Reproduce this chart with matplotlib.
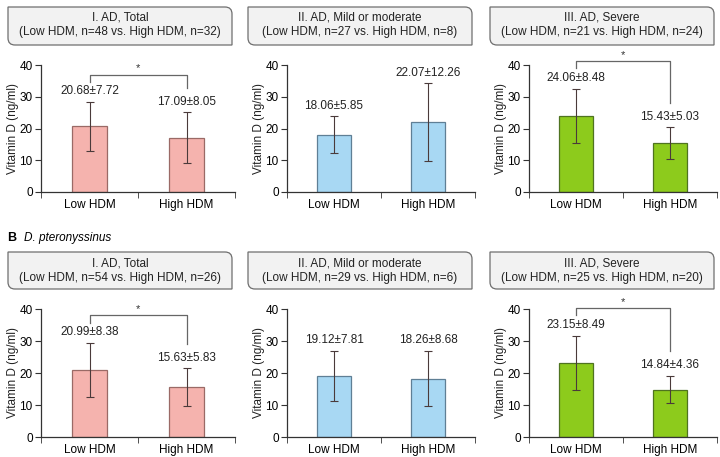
import matplotlib
matplotlib.use("Agg")
import matplotlib.pyplot as plt
from matplotlib.path import Path
from matplotlib.patches import PathPatch

plt.rcParams['font.family'] = ['Liberation Sans', 'DejaVu Sans']
plt.rcParams['font.size'] = 8.5

# data
groups = ["Low HDM", "High HDM"]
titles = ["I. AD, Total", "II. AD, Mild or moderate", "III. AD, Severe"]
n_top = [(48, 32), (27, 8), (21, 24)]
n_bottom = [(54, 26), (29, 6), (25, 20)]
mean_top = [[20.68, 17.09], [18.06, 22.07], [24.06, 15.43]]
sd_top = [[7.72, 8.05], [5.85, 12.26], [8.48, 5.03]]
mean_bottom = [[20.99, 15.63], [19.12, 18.26], [23.15, 14.84]]
sd_bottom = [[8.38, 5.83], [7.81, 8.68], [8.49, 4.36]]
sig_top = [True, False, True]
sig_bottom = [True, False, True]

face_colors = ["#F5B3AE", "#A8D8F3", "#8DCB1C"]
edge_colors = ["#9A6A66", "#5F7F95", "#4F7320"]

W, H = 720, 457
fig = plt.figure(figsize=(W / 100, H / 100), dpi=100)

# overlay in pixel coordinates for boxes and panel label
ov = fig.add_axes([0, 0, 1, 1])
ov.set_xlim(0, W)
ov.set_ylim(H, 0)
ov.axis("off")


def title_box(x0, x1, y0, y1, line1, line2, r=7):
    verts = [(x0, y0), (x1 - r, y0), (x1, y0), (x1, y0 + r), (x1, y1),
             (x0 + r, y1), (x0, y1), (x0, y1 - r), (x0, y0)]
    codes = [Path.MOVETO, Path.LINETO, Path.CURVE3, Path.CURVE3, Path.LINETO,
             Path.LINETO, Path.CURVE3, Path.CURVE3, Path.CLOSEPOLY]
    ov.add_patch(PathPatch(Path(verts, codes), facecolor="#F2F2F2",
                           edgecolor="#6E6E6E", lw=0.9))
    xc = (x0 + x1) / 2
    ov.text(xc, y0 + 11, line1, ha="center", va="center", color="#222222")
    ov.text(xc, y0 + 25.5, line2, ha="center", va="center", color="#222222")


def px_axes(left, top, width, height):
    return fig.add_axes([left / W, 1 - (top + height) / H, width / W, height / H])


def panel(ax, means, sds, col, sig):
    x = [0, 1]
    ax.bar(x, means, width=0.37, color=face_colors[col],
           edgecolor=edge_colors[col], linewidth=0.9, zorder=2)
    ax.errorbar(x, means, yerr=sds, fmt="none", ecolor="#4A3A3A",
                elinewidth=0.8, capsize=3, capthick=0.8, zorder=3)
    tops = [m + s for m, s in zip(means, sds)]
    for xi, m, s, t in zip(x, means, sds, tops):
        ax.text(xi, t + 3.3, f"{m:.2f}\u00b1{s:.2f}", ha="center",
                va="center", color="#222222")
    if sig:
        yb = max(tops) + 8.6
        ax.plot([0, 0, 1, 1], [tops[0] + 6.4, yb, yb, tops[1] + 7.6],
                color="#666666", lw=0.9, clip_on=False)
        ax.text(0.5, yb + 0.3, "*", ha="center", va="bottom",
                color="#333333", fontsize=8)
    ax.set_xlim(-0.5, 1.5)
    ax.set_ylim(0, 40)
    ax.set_yticks([0, 10, 20, 30, 40])
    ax.set_xticks(x)
    ax.set_xticklabels(groups)
    ax.set_xticks([-0.5, 0.5, 1.5], minor=True)
    ax.tick_params(axis="x", which="major", length=0, pad=5)
    ax.tick_params(axis="x", which="minor", length=4, direction="out",
                   color="#333333")
    ax.tick_params(axis="y", length=4, direction="out", color="#333333", pad=2)
    for side in ["top", "right"]:
        ax.spines[side].set_visible(False)
    for side in ["left", "bottom"]:
        ax.spines[side].set_color("#333333")
        ax.spines[side].set_linewidth(0.9)
    ax.set_ylabel("Vitamin D (ng/ml)", labelpad=0.5, color="#222222")
    ax.patch.set_alpha(0)


lefts = [41, 287, 529]
widths = [194, 188, 188]
box_x = [(8, 232), (248, 472), (490, 714)]

rows = [
    (65, 127, 7, 45, n_top, mean_top, sd_top, sig_top),
    (309, 128, 252, 289, n_bottom, mean_bottom, sd_bottom, sig_bottom),
]

for top, height, by0, by1, ns, means, sds, sigs in rows:
    for i in range(3):
        bx0, bx1 = box_x[i]
        title_box(bx0, bx1, by0, by1, titles[i],
                  f"(Low HDM, n={ns[i][0]} vs. High HDM, n={ns[i][1]})")
        ax = px_axes(lefts[i], top, widths[i], height)
        panel(ax, means[i], sds[i], i, sigs[i])

ov.text(7, 238, "B", fontweight="bold", fontsize=9, va="center", ha="left")
ov.text(24, 238, "D. pteronyssinus", fontstyle="italic", va="center",
        ha="left")

fig.savefig("out.png", dpi=100)
